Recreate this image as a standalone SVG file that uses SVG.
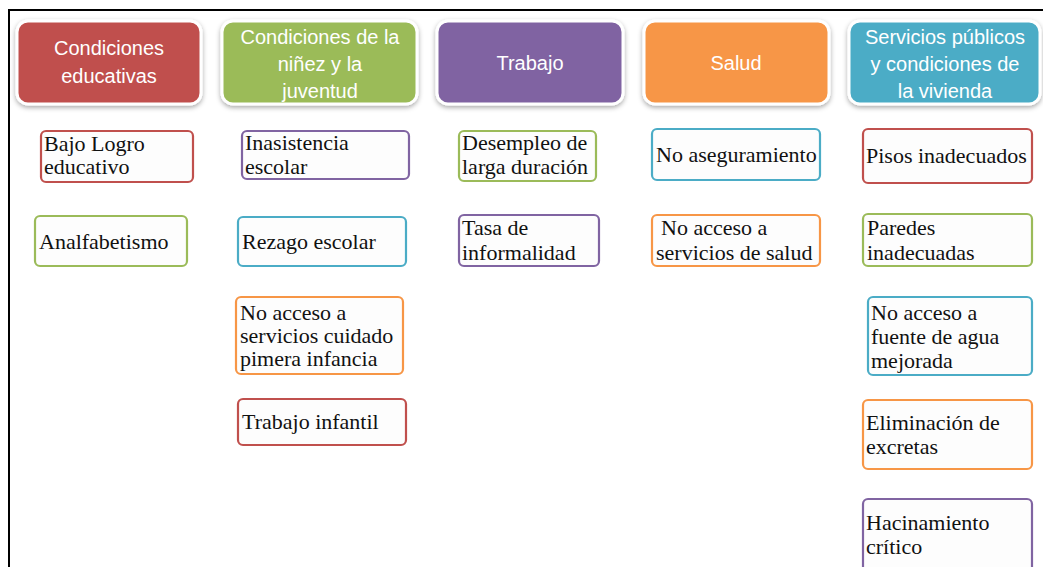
<svg xmlns="http://www.w3.org/2000/svg" width="1043" height="567" viewBox="0 0 1043 567">
<defs>
<filter id="sh" x="-10%" y="-10%" width="120%" height="130%">
<feDropShadow dx="0" dy="2" stdDeviation="2.5" flood-color="#000" flood-opacity="0.35"/>
</filter>
<style>
.hd{stroke:#fff;stroke-width:3;filter:url(#sh)}
.ht{font-family:"Liberation Sans",Arial,sans-serif;font-size:20px;fill:#fff;text-anchor:middle}
.bx{fill:#fdfdfd;stroke-width:2.2}
.bt{font-family:"Liberation Serif","Times New Roman",serif;font-size:22px;fill:#111}
.r{stroke:#c0504d}.g{stroke:#9bbb59}.p{stroke:#8064a2}.o{stroke:#f79646}.b{stroke:#4bacc6}
</style>
</defs>
<rect width="1043" height="567" fill="#fff"/>
<path d="M9 567 V10 H1043" fill="none" stroke="#000" stroke-width="2"/>
<g id="h1"><rect class="hd" x="17" y="21" width="184" height="83" rx="11" fill="#c0504d"/><text class="ht" x="109" y="55">Condiciones</text><text class="ht" x="109" y="83">educativas</text></g>
<g id="h2"><rect class="hd" x="222" y="21" width="195" height="83" rx="11" fill="#9bbb59"/><text class="ht" x="320" y="44">Condiciones de la</text><text class="ht" x="320" y="71">niñez y la</text><text class="ht" x="320" y="98">juventud</text></g>
<g id="h3"><rect class="hd" x="437" y="21" width="186" height="83" rx="11" fill="#8064a2"/><text class="ht" x="530" y="70">Trabajo</text></g>
<g id="h4"><rect class="hd" x="644" y="21" width="185" height="83" rx="11" fill="#f79646"/><text class="ht" x="736" y="70">Salud</text></g>
<g id="h5"><rect class="hd" x="849" y="21" width="191" height="83" rx="11" fill="#4bacc6"/><text class="ht" x="945" y="44">Servicios públicos</text><text class="ht" x="945" y="71">y condiciones de</text><text class="ht" x="945" y="98">la vivienda</text></g>

<g id="n1"><rect class="bx r" x="41" y="131" width="152" height="51" rx="5"/><text class="bt" x="44" y="151">Bajo Logro</text><text class="bt" x="44" y="174">educativo</text></g>
<g id="n2"><rect class="bx g" x="35" y="216" width="152" height="50" rx="5"/><text class="bt" x="39" y="249">Analfabetismo</text></g>

<g id="n3"><rect class="bx p" x="242" y="131" width="167" height="48" rx="5"/><text class="bt" x="245" y="150">Inasistencia</text><text class="bt" x="245" y="174">escolar</text></g>
<g id="n4"><rect class="bx b" x="238" y="217" width="168" height="49" rx="5"/><text class="bt" x="242" y="249">Rezago escolar</text></g>
<g id="n5"><rect class="bx o" x="236" y="297" width="167" height="77" rx="5"/><text class="bt" x="240" y="320">No acceso a</text><text class="bt" x="240" y="343">servicios cuidado</text><text class="bt" x="240" y="366">pimera infancia</text></g>
<g id="n6"><rect class="bx r" x="238" y="399" width="168" height="46" rx="5"/><text class="bt" x="242" y="429">Trabajo infantil</text></g>

<g id="n7"><rect class="bx g" x="459" y="131" width="137" height="50" rx="5"/><text class="bt" x="462" y="150">Desempleo de</text><text class="bt" x="462" y="174">larga duración</text></g>
<g id="n8"><rect class="bx p" x="459" y="215" width="140" height="51" rx="5"/><text class="bt" x="462" y="235">Tasa de</text><text class="bt" x="462" y="260">informalidad</text></g>

<g id="n9"><rect class="bx b" x="652" y="129" width="168" height="51" rx="5"/><text class="bt" x="656" y="162">No aseguramiento</text></g>
<g id="n10"><rect class="bx o" x="652" y="215" width="168" height="51" rx="5"/><text class="bt" x="661" y="235">No acceso a</text><text class="bt" x="656" y="260">servicios de salud</text></g>

<g id="n11"><rect class="bx r" x="863" y="129" width="169" height="54" rx="5"/><text class="bt" x="866" y="163">Pisos inadecuados</text></g>
<g id="n12"><rect class="bx g" x="863" y="214" width="169" height="52" rx="5"/><text class="bt" x="867" y="235">Paredes</text><text class="bt" x="867" y="260">inadecuadas</text></g>
<g id="n13"><rect class="bx b" x="868" y="297" width="164" height="78" rx="5"/><text class="bt" x="871" y="320">No acceso a</text><text class="bt" x="871" y="344">fuente de agua</text><text class="bt" x="871" y="368">mejorada</text></g>
<g id="n14"><rect class="bx o" x="863" y="400" width="169" height="69" rx="5"/><text class="bt" x="866" y="430">Eliminación de</text><text class="bt" x="866" y="454">excretas</text></g>
<g id="n15"><rect class="bx p" x="863" y="499" width="169" height="80" rx="5"/><text class="bt" x="866" y="530">Hacinamiento</text><text class="bt" x="866" y="554">crítico</text></g>
<g id="connectors"></g>
</svg>
